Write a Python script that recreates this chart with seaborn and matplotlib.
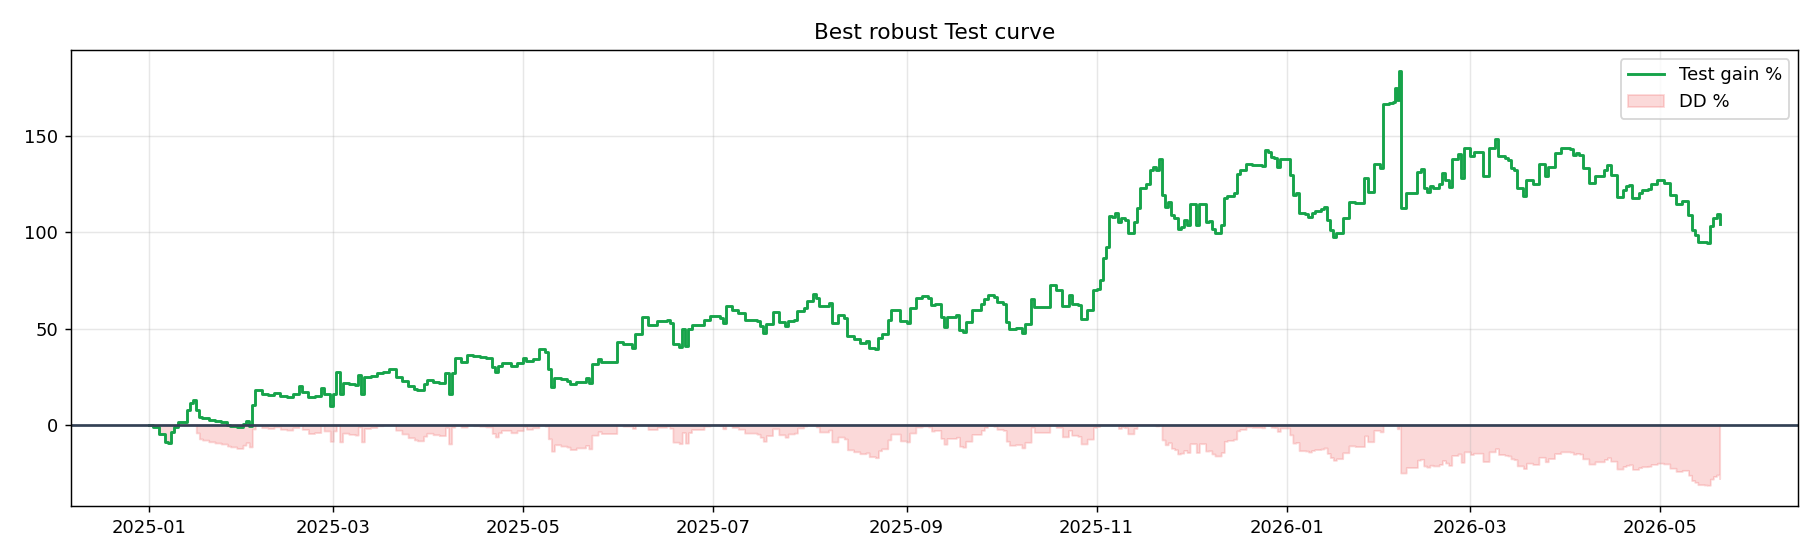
import matplotlib
matplotlib.use("Agg")
import matplotlib.pyplot as plt
import matplotlib.dates as mdates
import numpy as np
import pandas as pd
import seaborn as sns

# ---- data ----
start_date = "2025-01-01"
day_offset = [
    0, 1, 3, 5, 6, 7, 8, 9, 11, 12, 13, 14, 15, 16, 17, 19, 21, 23, 25, 26, 28, 30, 31, 32, 33, 34,
    36, 38, 40, 42, 44, 46, 48, 49, 51, 53, 55, 56, 58, 59, 60, 61, 62, 64, 66, 67, 68, 69, 71, 73,
    75, 77, 79, 81, 83, 85, 86, 88, 89, 91, 93, 95, 96, 97, 98, 100, 102, 104, 106, 108, 110, 111,
    112, 113, 116, 118, 120, 121, 123, 125, 127, 128, 129, 130, 132, 134, 135, 137, 140, 141, 142,
    144, 145, 150, 152, 155, 156, 158, 160, 163, 166, 167, 168, 170, 171, 172, 173, 174, 177, 178,
    180, 183, 184, 185, 187, 189, 191, 195, 196, 197, 198, 200, 202, 204, 205, 207, 208, 210, 211,
    213, 214, 215, 218, 219, 221, 223, 224, 226, 228, 230, 231, 233, 234, 235, 237, 238, 241, 243,
    244, 246, 248, 250,
    251, 252, 254, 255, 256, 259, 260, 261, 262, 264, 267, 268, 269, 271, 272, 274, 275, 276, 278,
    280, 281, 283, 284, 289, 291, 293, 295, 296, 298, 299, 301, 303, 304, 305, 306, 307, 308, 309,
    310, 311, 312, 313, 314, 316, 317, 318, 320, 321, 322, 323, 324, 325, 326, 327, 328, 329, 330,
    331, 332, 333, 334, 336, 337, 339, 340, 341, 342, 344, 345, 346, 348, 349, 350, 352, 354, 357,
    358, 359, 360, 361, 362, 363, 366, 367, 368, 369, 371, 372, 373, 374, 376, 377, 378, 379, 380,
    381, 383, 385, 387, 390, 391, 393, 395, 396, 398, 399, 399.7, 400.5, 401.2, 401.6,
    403.4, 407, 408, 409, 410, 411, 412, 414, 415, 416, 417, 418, 420, 421,
    422, 424, 425, 428, 430, 432, 433, 435, 436, 437, 438, 439, 441, 442, 444, 446, 448, 449, 451,
    453, 456, 457, 458, 459, 460, 462, 464, 467, 468, 469, 471, 473, 474, 475, 476, 478, 479, 481,
    482, 484, 486, 488, 490, 492, 494, 495, 496, 497, 499, 500, 501, 502, 503, 504,
]
test_gain = [
    0, -1, -5, -9, -9.5, -4, -1, 1.6, 1.2, 7.7, 11, 12.6, 7.7, 4.2, 3.5, 2.5, 1.8, 1.2, 0, -0.5, -1.4,
    0.5, 2, -0.5, 10, 17.9,
    16, 15.5, 16.5, 15, 14.5, 16, 20, 17, 14.4, 15, 19.3, 16, 9.5, 16, 27.5, 16, 21.8, 21, 20.5, 25.8,
    16, 24.9, 25.5, 26.7,
    27.5, 28.8, 25, 22.5, 20, 18.5, 17.9, 21, 23, 22, 21.4, 26.7, 15.8, 27, 34.6, 32.8, 36.3, 35.5,
    35.1, 34.6, 30, 27.5,
    30.5, 32.2, 30.5, 32, 34.8, 33, 34, 39.1, 38, 28.8, 19.8, 24.5, 23.5, 22.8, 21, 22.2, 24, 21.5,
    31.4,
    34, 32.6, 42.9, 41.7, 40, 47.4, 56, 52, 53.8, 54.7, 53, 41.7, 40.5, 49.5, 40.9, 49.5, 52, 52, 54.7,
    56.4, 55.5, 53, 61.9, 59.5, 58, 54.7, 53.8, 51.2, 47.8, 52.6, 58.4, 53.3, 51.2, 54, 54.7, 59, 60.7,
    64.1,
    68.1, 66, 61.6, 63.3, 52.9, 57.2, 55.5, 46, 44.3, 42.6, 43.4, 40, 39.1, 45.2, 46.9, 54.7, 59.8,
    53.8, 52.9,
    60.7, 65.9, 66.7, 66,
    62.4, 63, 56, 50.9, 56, 57, 49.1, 48.3, 53.5, 59.5, 63, 65.6, 67.4, 66.5, 63.9, 63, 53.5, 50, 50.5,
    47.7, 52.6, 65.6, 61.3, 72.6, 70, 61.6, 67.4, 63, 62, 55.2, 59.5, 70, 70.8, 75.2, 86.5, 92.5, 108.5,
    108,
    109.9, 105.6, 107.3, 106.4, 99.8, 105.6, 112.5, 123.3, 125, 132.5, 134.2, 132.5, 138.5, 119.4,
    113.4, 116, 109, 107.3, 102,
    103, 106.4, 103.8, 114.8, 103.8, 114.8, 105.6, 106, 102, 99.5, 103.8, 117.7, 118.9, 120.3, 130.7,
    132.5, 135.6, 135, 134.5,
    142.9, 142, 139.4, 139, 134.2, 138.5, 129.9, 119.4, 120.3, 109.9, 109.5, 108.2, 110.2, 111.3, 112,
    113.4, 106.4, 101.2, 97.7,
    99.8, 107.3, 116, 115.1, 128.6, 121.2, 135.6, 133.7, 166.7, 167.5, 168.1, 175, 169, 184.2,
    112.5, 120.7, 131.6, 132.8, 122.9, 121.2, 124.1, 123, 125.2, 131, 127.3, 123.8, 138.5, 140.8,
    128.3,
    143.9, 139.9, 141.8, 129.5, 143.9, 148.6, 139.9, 138.7, 137.8, 133.5, 132.3, 123.1, 119.1, 127.1,
    125.2, 135.8, 129.2, 133.9, 141.3,
    143.9, 143.4, 140.5, 141.5, 140.5, 133.5, 125.7, 129.2, 132.6, 135.2, 130, 118.4, 122.2, 124,
    124.8, 117.9, 120.5, 121.9, 122.5,
    125.3, 127.1, 126, 119.6, 114.9, 116.5, 109.2, 101.4, 98.8, 95.3, 94.8, 94.4, 103.5, 107.5, 109.7,
    104.5,
]

dates = pd.Timestamp(start_date) + pd.to_timedelta(day_offset, unit="D")
gain = np.array(test_gain, dtype=float)
equity = 1 + gain / 100.0
peak = np.maximum.accumulate(np.maximum(equity, 1.0))
dd = (equity / peak - 1) * 100.0

df = pd.DataFrame({"date": dates, "gain": gain, "dd": dd})

# ---- plot ----
fig, ax = plt.subplots(figsize=(14, 560 / 130), dpi=130)
fig.subplots_adjust(left=0.039, right=0.988, top=0.9107, bottom=0.0964)

sns.lineplot(data=df, x="date", y="gain", ax=ax, color="#16a34a", linewidth=1.6,
             drawstyle="steps-post", estimator=None, label="Test gain %")
ax.fill_between(df["date"], df["dd"], 0, step="post", color="#ef4444", alpha=0.2,
                label="DD %")
ax.axhline(0, color="#334155", linewidth=1.5)

ax.set_title("Best robust Test curve")
ax.set_xlabel("")
ax.set_ylabel("")
ax.grid(True, alpha=0.3)
ax.xaxis.set_major_locator(mdates.MonthLocator(bymonth=[1, 3, 5, 7, 9, 11]))
ax.xaxis.set_major_formatter(mdates.DateFormatter("%Y-%m"))
ax.legend(loc="upper right")

fig.savefig("out.png", dpi=130)
